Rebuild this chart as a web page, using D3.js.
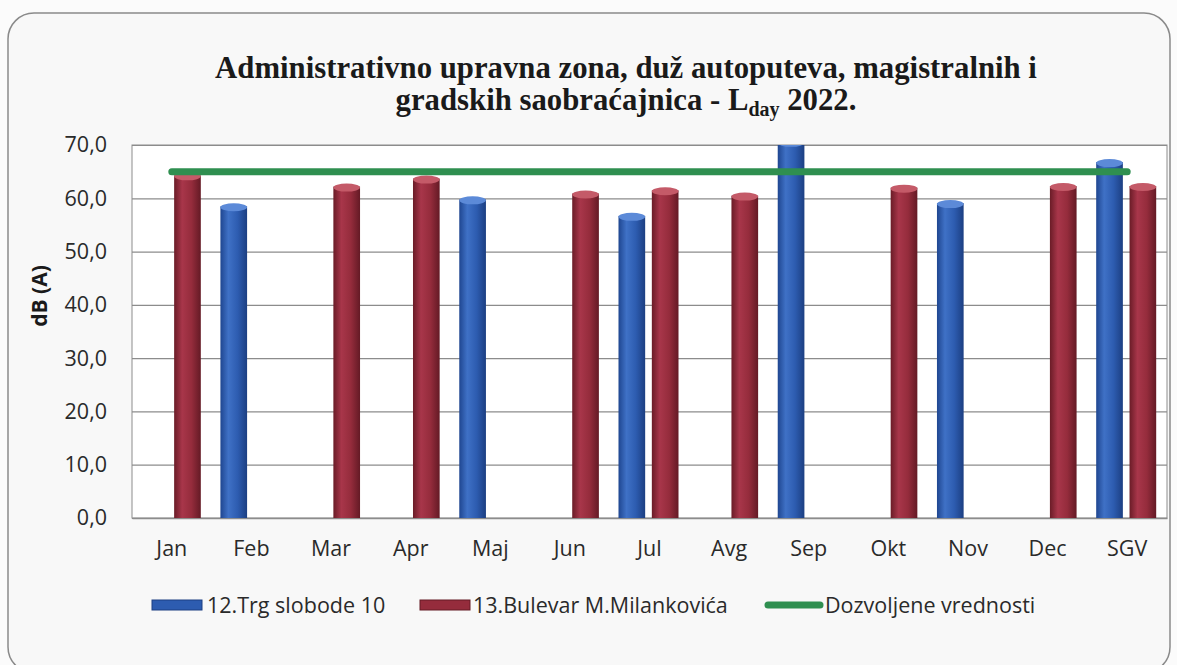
<!DOCTYPE html>
<html>
<head>
<meta charset="utf-8">
<script src="https://cdn.jsdelivr.net/npm/d3@7"></script>
<style>
  body { margin: 0; background: #fbfbfb; }
  svg { display: block; }
</style>
</head>
<body>
<div class="container"></div>
<script>
const WIDTH = 1177;
const HEIGHT = 665;
const PLOT = { left: 132, right: 1167, top: 145, bottom: 518 };

// data
const months = ["Jan","Feb","Mar","Apr","Maj","Jun","Jul","Avg","Sep","Okt","Nov","Dec","SGV"];
const trgSlobode = [null,58.5,null,null,59.8,null,56.7,null,70.6,null,59.1,null,66.8];
const bulevar = [64.3,null,62.2,63.7,null,60.9,61.5,60.5,null,62.0,null,62.3,62.3];
const limitValues = [65,65,65,65,65,65,65,65,65,65,65,65,65];
const yTicks = [0,10,20,30,40,50,60,70];
const seriesNames = ["12.Trg slobode 10","13.Bulevar M.Milankovića","Dozvoljene vrednosti"];

const FONT = '"Open Sans", sans-serif';
const FS = 21.5;

const svg = d3.select('.container').append('svg')
  .attr('width', WIDTH)
  .attr('height', HEIGHT);

const defs = svg.append('defs');

function cylinder(id, stops){
  const g = defs.append('linearGradient').attr('id', id)
    .attr('x1','0%').attr('x2','100%').attr('y1','0%').attr('y2','0%');
  stops.forEach(function(s){
    g.append('stop').attr('offset', s[0]).attr('stop-color', s[1]);
  });
}
cylinder('gBlue', [['0%','#1f4690'],['30%','#3f71c6'],['65%','#2d5cb0'],['100%','#1c3f82']]);
cylinder('gRed', [['0%','#6a1c27'],['30%','#a8364a'],['65%','#952c3c'],['100%','#641a25']]);

defs.append('clipPath').attr('id','plotClip')
  .append('rect')
  .attr('x', PLOT.left).attr('y', PLOT.top)
  .attr('width', PLOT.right - PLOT.left).attr('height', PLOT.bottom - PLOT.top);

// outer frame
svg.append('rect')
  .attr('x', 8).attr('y', 13)
  .attr('width', 1162).attr('height', 660)
  .attr('rx', 26)
  .attr('fill', '#f8f8f8')
  .attr('stroke', '#8a8a8a')
  .attr('stroke-width', 1.5);

// title
const title = svg.append('text')
  .attr('text-anchor', 'middle')
  .attr('font-family', '"Liberation Serif", serif')
  .attr('font-weight', 'bold')
  .attr('fill', '#1a1a1a');
const t1 = title.append('tspan').attr('x', 626).attr('y', 78)
  .text('Administrativno upravna zona, duž autoputeva, magistralnih i');
const t2 = title.append('tspan').attr('x', 626).attr('y', 110);
t2.append('tspan').text('gradskih saobraćajnica - L');
t2.append('tspan').attr('dy', 6).attr('font-size', '0.65em').text('day');
t2.append('tspan').attr('dy', -6).text(' 2022.');
title.attr('font-size', 26);
const w1 = t1.node().getComputedTextLength();
title.attr('font-size', 26 * 822 / w1);

const xScale = d3.scaleBand()
  .domain(months)
  .range([PLOT.left, PLOT.right]);

const xSub = d3.scaleBand()
  .domain(['trg','bul'])
  .range([-31, 29])
  .paddingInner(0.2);

const yScale = d3.scaleLinear()
  .domain([0, 70])
  .range([PLOT.bottom, PLOT.top]);

// plot area
svg.append('rect')
  .attr('x', PLOT.left).attr('y', PLOT.top)
  .attr('width', PLOT.right - PLOT.left).attr('height', PLOT.bottom - PLOT.top)
  .attr('fill', '#ffffff')
  .attr('stroke', '#8c8c8c');

// grid + y labels
const yAxis = d3.axisLeft(yScale)
  .tickValues(yTicks)
  .tickSize(-(PLOT.right - PLOT.left))
  .tickPadding(25)
  .tickFormat(function(d){ return d3.format('.1f')(d).replace('.', ','); });

const yg = svg.append('g')
  .attr('transform', 'translate(' + PLOT.left + ',0)')
  .call(yAxis);
yg.select('.domain').remove();
yg.selectAll('.tick line').attr('stroke', '#8c8c8c').attr('stroke-width', 1.2);
yg.selectAll('.tick text')
  .attr('font-family', FONT)
  .attr('font-size', FS)
  .attr('fill', '#2a2a2a');

// x labels
const xAxis = d3.axisBottom(xScale).tickSize(0).tickPadding(23);
const xg = svg.append('g')
  .attr('transform', 'translate(0,' + PLOT.bottom + ')')
  .call(xAxis);
xg.select('.domain').attr('stroke', '#8c8c8c').attr('stroke-width', 1.5);
xg.selectAll('.tick text')
  .attr('font-family', FONT)
  .attr('font-size', FS)
  .attr('fill', '#2a2a2a');

// y axis title
svg.append('text')
  .attr('transform', 'translate(47,296) rotate(-90)')
  .attr('text-anchor', 'middle')
  .attr('font-family', FONT)
  .attr('font-weight', 'bold')
  .attr('font-size', 21)
  .attr('fill', '#1a1a1a')
  .text('dB (A)');

// bars
const bars = svg.append('g').attr('clip-path', 'url(#plotClip)');

function drawSeries(values, key, fill, capColor){
  const data = months.map(function(m, i){ return { m: m, v: values[i] }; })
    .filter(function(d){ return d.v != null; });
  const g = bars.append('g');
  g.selectAll('rect')
    .data(data)
    .enter().append('rect')
    .attr('x', function(d){ return xScale(d.m) + xScale.bandwidth()/2 + xSub(key); })
    .attr('y', function(d){ return yScale(d.v); })
    .attr('width', xSub.bandwidth())
    .attr('height', function(d){ return PLOT.bottom - yScale(d.v); })
    .attr('fill', fill);
  g.selectAll('ellipse')
    .data(data)
    .enter().append('ellipse')
    .attr('cx', function(d){ return xScale(d.m) + xScale.bandwidth()/2 + xSub(key) + xSub.bandwidth()/2; })
    .attr('cy', function(d){ return yScale(d.v) + 1; })
    .attr('rx', xSub.bandwidth()/2)
    .attr('ry', 4)
    .attr('fill', capColor);
}
drawSeries(trgSlobode, 'trg', 'url(#gBlue)', '#5c8ad8');
drawSeries(bulevar, 'bul', 'url(#gRed)', '#c45a68');

// limit line
const line = d3.line()
  .x(function(d, i){ return xScale(months[i]) + xScale.bandwidth()/2; })
  .y(function(d){ return yScale(d); });

svg.append('path')
  .attr('d', line(limitValues))
  .attr('fill', 'none')
  .attr('stroke', '#2f8f50')
  .attr('stroke-width', 7)
  .attr('stroke-linecap', 'round');

// legend
const legend = svg.append('g')
  .attr('font-family', FONT)
  .attr('font-size', FS)
  .attr('fill', '#2a2a2a');
const LY = 605;

legend.append('rect').attr('x', 152).attr('y', LY - 5).attr('width', 50).attr('height', 10)
  .attr('fill', '#2d5cb0').attr('stroke', '#1c3f82');
legend.append('text').attr('x', 207).attr('y', LY).attr('dy', '0.35em').text(seriesNames[0]);

legend.append('rect').attr('x', 420).attr('y', LY - 5).attr('width', 50).attr('height', 10)
  .attr('fill', '#952c3c').attr('stroke', '#641a25');
legend.append('text').attr('x', 473).attr('y', LY).attr('dy', '0.35em').text(seriesNames[1]);

legend.append('line').attr('x1', 768).attr('x2', 820).attr('y1', LY).attr('y2', LY)
  .attr('stroke', '#2f8f50').attr('stroke-width', 7).attr('stroke-linecap', 'round');
legend.append('text').attr('x', 825).attr('y', LY).attr('dy', '0.35em').text(seriesNames[2]);
</script>
</body>
</html>
